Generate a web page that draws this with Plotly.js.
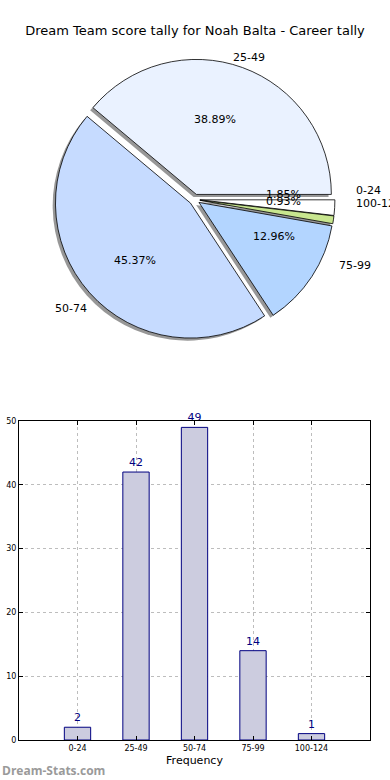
<!DOCTYPE html>
<html>
<head>
<meta charset="utf-8">
<script src="https://cdn.plot.ly/plotly-3.0.1.min.js"></script>
<style>html,body{margin:0;padding:0;background:#fff;}#chart{width:390px;height:780px;}</style>
</head>
<body>
<div id="chart"></div>
<script>
const categories = ["0-24", "25-49", "50-74", "75-99", "100-124"];
const counts = [2, 42, 49, 14, 1];
const sliceColors = ["#ffffff", "#eaf2ff", "#c6dbff", "#b3d5ff", "#c8e68f"];
const titleText = "Dream Team score tally for Noah Balta - Career tally";
const xAxisLabel = "Frequency";
const yTicks = [0, 10, 20, 30, 40, 50];

const FONT = "DejaVu Sans, sans-serif";
const W = 390, H = 780;
const PULL = 0.04;
// pie geometry (pixels)
const cx = 194.5, cy = 199.5, R = 135;
const half = R * (1 + PULL);
const pieX = [(cx - half) / W, (cx + half) / W];
const pieY = [1 - (cy + half) / H, 1 - (cy - half) / H];
const sdx = -2.8 / W, sdy = -2.6 / H;

const total = counts.reduce((a, b) => a + b, 0);
const annotations = [];
// label / percentage placement like matplotlib (labeldistance 1.1, pctdistance 0.6)
const RX = 140, RY = 128; // text placement radii
let cum = 0;
counts.forEach((v, i) => {
  const th = 2 * Math.PI * (cum + v / 2) / total;
  cum += v;
  const c = Math.cos(th), s = Math.sin(th);
  const ox = cx + PULL * R * c, oy = cy - PULL * R * s;
  const lx = ox + 1.1 * RX * c, ly = oy - 1.1 * RY * s;
  annotations.push({
    text: categories[i], xref: "paper", yref: "paper",
    x: lx / W, y: 1 - ly / H, xanchor: c > 0 ? "left" : "right", yanchor: "middle",
    showarrow: false, font: {family: FONT, size: 11, color: "#000"}
  });
  const px = ox + 0.6 * RX * c, py = oy - 0.6 * RY * s;
  annotations.push({
    text: (100 * v / total).toFixed(2) + "%", xref: "paper", yref: "paper",
    x: px / W, y: 1 - py / H, xanchor: "center", yanchor: "middle",
    showarrow: false, font: {family: FONT, size: 11, color: "#000"}
  });
});
annotations.push({
  text: "<b>Dream-Stats.com</b>", xref: "paper", yref: "paper",
  x: 0, xanchor: "left", y: 1 - 770 / H, yanchor: "middle", showarrow: false,
  font: {family: "Open Sans, sans-serif", size: 12, color: "#9a9a9a"}
});

const shadow = {
  type: "pie", values: counts, labels: categories, sort: false,
  direction: "counterclockwise", rotation: 90, pull: PULL,
  marker: {colors: categories.map(() => "rgba(125,125,125,0.8)"), line: {width: 0}},
  textinfo: "none",
  domain: {x: [pieX[0] + sdx, pieX[1] + sdx], y: [pieY[0] + sdy, pieY[1] + sdy]},
  showlegend: false, hoverinfo: "skip"
};
const pie = {
  type: "pie", values: counts, labels: categories, sort: false,
  direction: "counterclockwise", rotation: 90, pull: PULL,
  marker: {colors: sliceColors, line: {color: "#000", width: 0.8}},
  textinfo: "none",
  domain: {x: pieX, y: pieY},
  showlegend: false, hoverinfo: "skip"
};
const bars = {
  type: "bar", x: categories, y: counts, width: 0.45,
  xaxis: "x", yaxis: "y",
  marker: {color: "#ccccdf", line: {color: "#000080", width: 1}},
  text: counts.map(String), textposition: "outside", cliponaxis: false,
  textfont: {family: FONT, size: 11, color: "#000080"},
  showlegend: false, hoverinfo: "skip"
};

const layout = {
  width: W, height: H,
  margin: {l: 0, r: 0, t: 0, b: 0},
  paper_bgcolor: "#fff", plot_bgcolor: "#fff",
  font: {family: FONT, color: "#000"},
  title: {text: titleText, x: 0.5, xanchor: "center", y: 1 - 30 / H, yanchor: "middle",
          font: {family: FONT, size: 13, color: "#000"}},
  xaxis: {
    domain: [19 / W, 370 / W], range: [-1, 5], type: "category",
    showline: true, mirror: "ticks", linecolor: "#000", linewidth: 1,
    ticks: "inside", ticklen: 4, tickcolor: "#000",
    showgrid: true, gridcolor: "#bdbdbd", griddash: "dot", gridwidth: 1,
    tickfont: {family: FONT, size: 8, color: "#000"},
    title: {text: xAxisLabel, font: {family: FONT, size: 11, color: "#000"}, standoff: 4},
    zeroline: false, fixedrange: true
  },
  yaxis: {
    domain: [1 - 740 / H, 1 - 421 / H], range: [0, 50],
    tickvals: yTicks, ticktext: yTicks.map(String),
    showline: true, mirror: "ticks", linecolor: "#000", linewidth: 1,
    ticks: "inside", ticklen: 4, tickcolor: "#000",
    showgrid: true, gridcolor: "#bdbdbd", griddash: "dot", gridwidth: 1,
    tickfont: {family: FONT, size: 8, color: "#000"},
    zeroline: false, fixedrange: true
  },
  annotations: annotations
};

Plotly.newPlot("chart", [shadow, pie, bars], layout, {staticPlot: true, displayModeBar: false});
</script>
</body>
</html>
